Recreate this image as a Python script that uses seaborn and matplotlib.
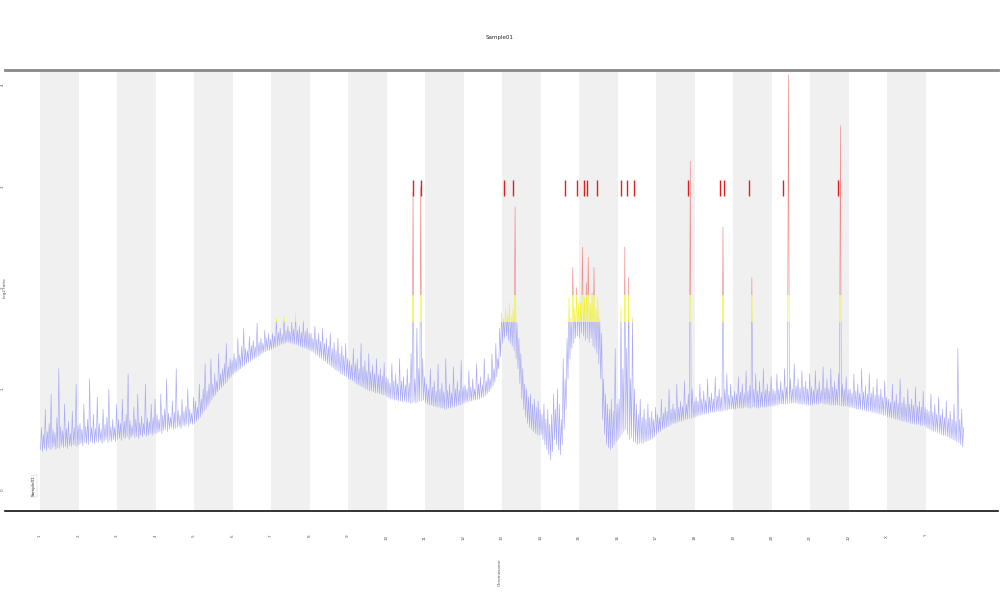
import numpy as np
import pandas as pd
import matplotlib
matplotlib.use('Agg')
import matplotlib.pyplot as plt
import seaborn as sns
from matplotlib.transforms import Bbox, TransformedBbox

# chromosome order along the genome axis
chromosomes = [str(i) for i in range(1, 23)] + ['X', 'Y']

# copy-number signal per chromosome (low/high zigzag)
signal = {
    '1':  [0.40, 0.62, 0.38, 0.55, 0.41, 0.80, 0.39, 0.58, 0.42, 0.66, 0.40, 0.95, 0.41, 0.60, 0.43, 0.57, 0.40, 0.72, 0.42, 1.20,
           0.41, 0.63, 0.44, 0.59, 0.42, 0.85, 0.43, 0.61, 0.41, 0.68, 0.44, 0.56, 0.43, 0.78, 0.45, 0.62, 0.44, 1.05, 0.43, 0.64],
    '2':  [0.45, 0.66, 0.46, 0.60, 0.44, 0.85, 0.47, 0.63, 0.46, 0.70, 0.45, 1.10, 0.48, 0.62, 0.47, 0.75, 0.46, 0.61, 0.48, 0.92,
           0.47, 0.66, 0.49, 0.60, 0.46, 0.80, 0.48, 0.65, 0.50, 0.72, 0.47, 1.00, 0.49, 0.63, 0.48, 0.70, 0.50, 0.62, 0.48, 0.85],
    '3':  [0.50, 0.70, 0.51, 0.66, 0.49, 0.90, 0.52, 0.68, 0.51, 0.75, 0.53, 1.15, 0.50, 0.69, 0.52, 0.64, 0.54, 0.82, 0.52, 0.70,
           0.53, 0.95, 0.51, 0.67, 0.54, 0.73, 0.53, 0.66, 0.55, 1.05, 0.53, 0.71, 0.54, 0.68, 0.56, 0.85, 0.54, 0.72, 0.56, 0.90],
    '4':  [0.56, 0.75, 0.57, 0.70, 0.58, 0.95, 0.56, 0.74, 0.59, 0.80, 0.60, 1.10, 0.58, 0.76, 0.61, 0.72, 0.62, 0.88, 0.60, 0.77,
           0.61, 1.20, 0.62, 0.79, 0.63, 0.74, 0.61, 0.90, 0.64, 0.78, 0.63, 0.83, 0.65, 1.00, 0.63, 0.80, 0.66, 0.76, 0.65, 0.92],
    '5':  [0.66, 0.88, 0.68, 0.82, 0.70, 1.05, 0.72, 0.90, 0.75, 1.00, 0.78, 1.25, 0.80, 0.98, 0.83, 1.05, 0.86, 1.30, 0.89, 1.05,
           0.92, 1.15, 0.94, 1.08, 0.97, 1.35, 0.99, 1.15, 1.01, 1.20, 1.03, 1.25, 1.05, 1.45, 1.07, 1.22, 1.10, 1.30, 1.12, 1.28],
    '6':  [1.14, 1.35, 1.16, 1.30, 1.17, 1.50, 1.19, 1.34, 1.20, 1.42, 1.22, 1.60, 1.23, 1.40, 1.25, 1.38, 1.26, 1.52, 1.27, 1.43,
           1.29, 1.48, 1.30, 1.42, 1.31, 1.65, 1.32, 1.46, 1.33, 1.50, 1.35, 1.45, 1.36, 1.58, 1.37, 1.50, 1.38, 1.55, 1.38, 1.49],
    '7':  [1.39, 1.55, 1.40, 1.52, 1.41, 1.70, 1.42, 1.56, 1.43, 1.60, 1.44, 1.54, 1.45, 1.72, 1.45, 1.58, 1.46, 1.62, 1.46, 1.57,
           1.45, 1.66, 1.45, 1.59, 1.44, 1.75, 1.44, 1.58, 1.43, 1.62, 1.42, 1.56, 1.41, 1.68, 1.41, 1.57, 1.40, 1.60, 1.39, 1.55],
    '8':  [1.38, 1.55, 1.37, 1.50, 1.36, 1.62, 1.34, 1.49, 1.33, 1.55, 1.31, 1.47, 1.30, 1.60, 1.28, 1.45, 1.27, 1.50, 1.25, 1.42,
           1.24, 1.55, 1.22, 1.40, 1.21, 1.46, 1.19, 1.38, 1.18, 1.50, 1.17, 1.35, 1.15, 1.42, 1.14, 1.33, 1.13, 1.45, 1.12, 1.30],
    '9':  [1.10, 1.28, 1.09, 1.24, 1.08, 1.40, 1.07, 1.25, 1.05, 1.30, 1.04, 1.20, 1.03, 1.45, 1.02, 1.22, 1.01, 1.28, 1.00, 1.18,
           0.99, 1.35, 0.98, 1.17, 0.98, 1.24, 0.97, 1.15, 0.96, 1.30, 0.96, 1.14, 0.95, 1.20, 0.95, 1.13, 0.94, 1.26, 0.94, 1.12],
    '10': [0.92, 1.10, 0.91, 1.06, 0.90, 1.25, 0.90, 1.08, 0.89, 1.15, 0.89, 1.05, 0.88, 1.30, 0.88, 1.08, 0.87, 1.12, 0.88, 1.04,
           0.87, 1.20, 0.87, 1.06, 0.86, 1.35, 0.86, 2.95, 0.87, 1.10, 0.86, 1.60, 0.87, 1.20, 0.88, 3.00, 0.88, 1.30, 0.89, 1.12],
    '11': [0.86, 1.05, 0.85, 1.00, 0.84, 1.20, 0.84, 1.02, 0.83, 1.08, 0.83, 0.98, 0.82, 1.25, 0.82, 1.00, 0.81, 1.06, 0.81, 0.97,
           0.80, 1.30, 0.80, 0.99, 0.81, 1.05, 0.81, 0.96, 0.82, 1.22, 0.82, 1.00, 0.83, 1.08, 0.84, 0.99, 0.84, 1.28, 0.85, 1.02],
    '12': [0.86, 1.04, 0.87, 1.00, 0.87, 1.18, 0.88, 1.02, 0.88, 1.10, 0.89, 1.00, 0.89, 1.25, 0.90, 1.05, 0.90, 1.12, 0.91, 1.04,
           0.92, 1.30, 0.93, 1.08, 0.95, 1.15, 0.97, 1.10, 1.00, 1.35, 1.03, 1.20, 1.07, 1.45, 1.12, 1.30, 1.20, 1.60, 1.32, 1.75],
    '13': [1.45, 1.70, 1.50, 1.80, 1.52, 1.75, 1.48, 1.85, 1.45, 1.72, 1.42, 1.78, 1.38, 2.80, 1.30, 1.65, 1.20, 1.50, 1.05, 1.35,
           0.90, 1.20, 0.80, 1.05, 0.72, 1.00, 0.66, 0.92, 0.62, 0.95, 0.60, 0.85, 0.58, 0.90, 0.56, 0.82, 0.55, 0.88, 0.54, 0.80],
    '14': [0.55, 0.75, 0.50, 0.85, 0.45, 0.70, 0.40, 0.80, 0.35, 0.65, 0.30, 0.75, 0.38, 0.95, 0.50, 0.80, 0.45, 1.00, 0.40, 0.85,
           0.35, 0.70, 0.45, 1.30, 0.60, 1.10, 0.80, 1.50, 1.10, 1.90, 1.30, 1.70, 1.40, 2.20, 1.45, 1.80, 1.50, 2.00, 1.52, 1.85],
    '15': [1.50, 1.85, 1.55, 2.40, 1.52, 1.90, 1.48, 2.05, 1.50, 2.30, 1.46, 1.85, 1.50, 1.95, 1.42, 2.20, 1.40, 1.80, 1.35, 1.90,
           1.25, 1.70, 1.10, 1.55, 0.70, 1.10, 0.55, 0.95, 0.45, 0.85, 0.42, 0.80, 0.40, 0.90, 0.42, 0.78, 0.45, 1.40, 0.48, 0.85],
    '16': [0.50, 0.90, 0.52, 1.80, 0.55, 1.20, 0.58, 2.40, 0.60, 1.40, 0.55, 2.10, 0.50, 1.10, 0.52, 1.70, 0.48, 1.00, 0.47, 0.85,
           0.45, 0.75, 0.46, 0.90, 0.47, 0.72, 0.46, 0.80, 0.48, 0.70, 0.48, 0.85, 0.49, 0.72, 0.50, 0.78, 0.51, 0.70, 0.53, 0.82],
    '17': [0.55, 0.75, 0.57, 0.72, 0.58, 0.90, 0.60, 0.76, 0.61, 0.82, 0.62, 0.78, 0.63, 1.00, 0.64, 0.80, 0.65, 0.85, 0.66, 0.80,
           0.66, 1.05, 0.67, 0.82, 0.68, 0.88, 0.68, 0.83, 0.69, 1.08, 0.70, 0.85, 0.70, 0.95, 0.71, 3.25, 0.71, 1.00, 0.72, 0.88],
    '18': [0.72, 0.92, 0.73, 0.88, 0.74, 1.05, 0.74, 0.90, 0.75, 0.98, 0.75, 0.89, 0.76, 1.10, 0.76, 0.92, 0.77, 0.96, 0.77, 0.90,
           0.77, 1.12, 0.78, 0.93, 0.78, 1.00, 0.78, 0.92, 0.78, 2.60, 0.79, 1.00, 0.79, 1.15, 0.79, 0.94, 0.80, 1.05, 0.80, 0.93],
    '19': [0.80, 0.98, 0.80, 0.95, 0.81, 1.12, 0.81, 0.97, 0.81, 1.05, 0.81, 0.96, 0.82, 1.18, 0.82, 0.98, 0.81, 1.04, 0.81, 2.10,
           0.82, 1.00, 0.82, 1.15, 0.81, 0.98, 0.81, 1.08, 0.82, 0.97, 0.82, 1.20, 0.82, 0.99, 0.82, 1.05, 0.83, 0.98, 0.83, 1.12],
    '20': [0.83, 1.00, 0.83, 0.98, 0.84, 1.15, 0.84, 1.00, 0.85, 1.08, 0.85, 0.99, 0.85, 1.20, 0.85, 1.02, 0.85, 4.10, 0.86, 1.10,
           0.86, 1.00, 0.86, 1.25, 0.86, 1.03, 0.86, 1.10, 0.85, 1.01, 0.85, 1.18, 0.85, 1.02, 0.85, 1.08, 0.84, 1.00, 0.84, 1.15],
    '21': [0.84, 1.02, 0.84, 0.99, 0.85, 1.18, 0.85, 1.00, 0.85, 1.08, 0.86, 0.99, 0.86, 1.22, 0.85, 1.01, 0.85, 1.10, 0.85, 1.00,
           0.84, 1.20, 0.84, 1.02, 0.84, 1.08, 0.84, 1.00, 0.84, 1.15, 0.84, 3.60, 0.83, 1.05, 0.83, 1.00, 0.83, 1.12, 0.83, 0.99],
    '22': [0.82, 1.00, 0.82, 0.96, 0.81, 1.15, 0.81, 0.98, 0.80, 1.05, 0.80, 0.96, 0.80, 1.20, 0.79, 0.97, 0.79, 1.03, 0.78, 0.95,
           0.78, 1.15, 0.78, 0.96, 0.77, 1.02, 0.77, 0.94, 0.76, 1.10, 0.76, 0.94, 0.75, 1.00, 0.75, 0.92, 0.74, 1.08, 0.74, 0.92],
    'X':  [0.72, 0.90, 0.72, 0.87, 0.71, 1.05, 0.71, 0.88, 0.70, 0.95, 0.70, 0.86, 0.69, 1.10, 0.69, 0.87, 0.68, 0.92, 0.68, 0.85,
           0.67, 1.00, 0.67, 0.85, 0.66, 0.90, 0.66, 0.84, 0.65, 1.02, 0.65, 0.83, 0.65, 0.88, 0.64, 0.82, 0.64, 0.98, 0.64, 0.82],
    'Y':  [0.62, 0.80, 0.61, 0.78, 0.60, 0.95, 0.59, 0.77, 0.58, 0.85, 0.58, 0.75, 0.57, 0.92, 0.56, 0.74, 0.55, 0.80, 0.54, 0.72,
           0.54, 0.88, 0.53, 0.71, 0.52, 0.78, 0.51, 0.70, 0.50, 0.85, 0.49, 0.68, 0.48, 1.40, 0.47, 0.70, 0.45, 0.80, 0.43, 0.62],
}

# genome positions (chromosome units) of the red amplification calls
red_calls = [9.69, 9.90, 12.05, 12.29, 13.64, 13.95, 14.13, 14.21, 14.47,
             15.09, 15.25, 15.43, 16.83, 17.66, 17.77, 18.42, 19.30, 20.73]
call_level = (2.91, 3.06)

# colour cut-offs
gain_cut = 1.66
amp_cut = 1.93

rows = []
for k, chrom in enumerate(chromosomes):
    vals = signal[chrom]
    for i, v in enumerate(vals):
        rows.append({'pos': k + (i + 0.5) / len(vals), 'value': v, 'chrom': chrom})
df = pd.DataFrame(rows)

sns.set_style('white')
fig = plt.figure(figsize=(10, 6), dpi=100)
ax = fig.add_axes([0.005, 0.148, 0.993, 0.735])

# alternating chromosome bands
for k in range(0, len(chromosomes), 2):
    ax.axvspan(k, k + 1, color='#f0f0f0', lw=0, zorder=0)

# same trace three times, each clipped to its value range (opaque pale colours)
bands = [('#a9a9f6', -5, gain_cut), ('#f2f230', gain_cut, amp_cut), ('#f08a8a', amp_cut, 10)]
for color, lo, hi in bands:
    sns.lineplot(data=df, x='pos', y='value', color=color, lw=0.45,
                 estimator=None, sort=False, ax=ax)
    line = ax.lines[-1]
    line.set_clip_box(TransformedBbox(Bbox([[-2, lo], [30, hi]]), ax.transData))

ax.vlines(red_calls, call_level[0], call_level[1], color='#e02020', lw=1.0)

ax.set_xlim(-0.91, 24.88)
ax.set_ylim(-0.207, 4.148)
ax.set_xticks(range(len(chromosomes)))
ax.set_xticklabels(chromosomes, rotation=90, fontsize=3, color='#555555')
ax.set_yticks([0, 1, 2, 3, 4])
ax.set_yticklabels(['0', '1', '2', '3', '4'], rotation=90, fontsize=3, color='#555555')
ax.tick_params(axis='x', length=3, width=0.4, color='#aaaaaa', pad=14)
ax.tick_params(axis='y', length=0, pad=0)
ax.set_xlabel('')
ax.set_ylabel('')

for side in ['left', 'right']:
    ax.spines[side].set_visible(False)
ax.spines['top'].set_color('#888888')
ax.spines['top'].set_linewidth(2)
ax.spines['bottom'].set_color('#111111')
ax.spines['bottom'].set_linewidth(1.2)

fig.text(0.5, 0.937, 'Sample01', ha='center', va='center', fontsize=4)
fig.text(0.5, 0.047, 'Chromosome', ha='center', va='center', rotation=90, fontsize=3, color='#555555')
fig.text(0.003, 0.52, 'log2 ratio', ha='left', va='center', rotation=90, fontsize=3, color='#555555')
fig.text(0.034, 0.19, 'Sample01', ha='center', va='center', rotation=90, fontsize=3,
         bbox=dict(facecolor='white', edgecolor='#cccccc', lw=0.3, pad=0.5))

fig.savefig('out.png', dpi=100)
